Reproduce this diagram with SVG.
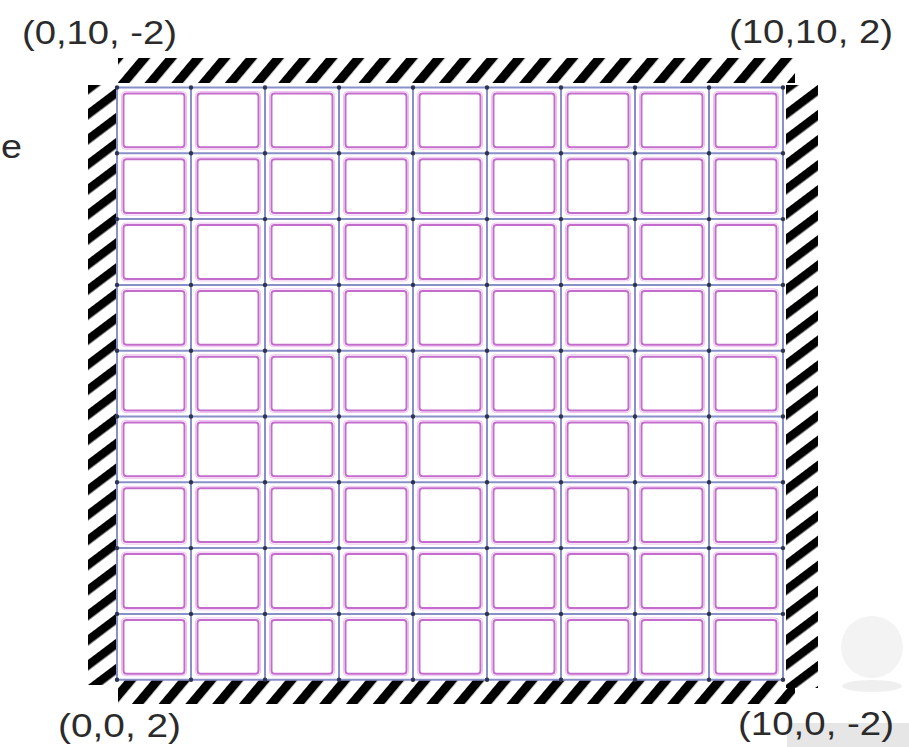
<svg xmlns="http://www.w3.org/2000/svg" xmlns:xlink="http://www.w3.org/1999/xlink" width="909" height="747" viewBox="0 0 909 747">
<style>
.lbl{font-family:"Liberation Sans",Arial,sans-serif;font-size:34px;fill:#2b2b2b}
.gl{stroke:#8890c8;stroke-width:2;fill:none}
.dots{stroke:#2b3550;stroke-width:4.4;stroke-linecap:round;stroke-dasharray:0 74;fill:none}
.cell{fill:#fff;stroke:#c46ccc;stroke-width:2;}
.cellin{fill:none;stroke:#f0c0f0;stroke-width:1;}
</style>
<defs>
<pattern id="hatchH" patternUnits="userSpaceOnUse" width="20.5" height="20" patternTransform="rotate(40)">
<rect x="0" y="0" width="9" height="20" fill="#000"/>
</pattern>
<pattern id="hatchV" patternUnits="userSpaceOnUse" width="20" height="20" patternTransform="rotate(53)">
<rect x="0" y="0" width="8.5" height="20" fill="#000"/>
</pattern>
<g id="c">
<rect class="cell" x="0" y="0" width="61" height="53.8" rx="3"/>
<rect class="cellin" x="-2" y="-2" width="65" height="57.8" rx="4"/>
</g>
</defs>
<rect width="909" height="747" fill="#fff"/>
<g id="watermark">
<circle cx="872" cy="647" r="31" fill="#f3f3f3"/>
<ellipse cx="872" cy="686" rx="30" ry="6" fill="#efefef"/>
<rect x="787" y="723" width="122" height="24" fill="#e6e6e6"/>
</g>
<g id="hatch-borders">
<rect id="band-top" x="118" y="58" width="677" height="25" fill="url(#hatchH)"/>
<rect id="band-bottom" x="118" y="680" width="677" height="24" fill="url(#hatchH)"/>
<rect id="band-left" x="88" y="85" width="30" height="600" fill="url(#hatchV)"/>
<rect id="band-right" x="786" y="85" width="32" height="603" fill="url(#hatchV)"/>
</g>
<g id="grid">
<rect x="117" y="87.5" width="666" height="592.2" fill="#fff"/>
<path class="gl" d="M117 87.5V679.7M191 87.5V679.7M265 87.5V679.7M339 87.5V679.7M413 87.5V679.7M487 87.5V679.7M561 87.5V679.7M635 87.5V679.7M709 87.5V679.7M783 87.5V679.7"/>
<path class="gl" d="M117 87.5H783M117 153.3H783M117 219.1H783M117 284.9H783M117 350.7H783M117 416.5H783M117 482.3H783M117 548.1H783M117 613.9H783M117 679.7H783"/>
</g>
<g id="cells">
<g id="row1"><use xlink:href="#c" x="123.5" y="93.5"/><use xlink:href="#c" x="197.5" y="93.5"/><use xlink:href="#c" x="271.5" y="93.5"/><use xlink:href="#c" x="345.5" y="93.5"/><use xlink:href="#c" x="419.5" y="93.5"/><use xlink:href="#c" x="493.5" y="93.5"/><use xlink:href="#c" x="567.5" y="93.5"/><use xlink:href="#c" x="641.5" y="93.5"/><use xlink:href="#c" x="715.5" y="93.5"/></g>
<g id="row2"><use xlink:href="#c" x="123.5" y="159.3"/><use xlink:href="#c" x="197.5" y="159.3"/><use xlink:href="#c" x="271.5" y="159.3"/><use xlink:href="#c" x="345.5" y="159.3"/><use xlink:href="#c" x="419.5" y="159.3"/><use xlink:href="#c" x="493.5" y="159.3"/><use xlink:href="#c" x="567.5" y="159.3"/><use xlink:href="#c" x="641.5" y="159.3"/><use xlink:href="#c" x="715.5" y="159.3"/></g>
<g id="row3"><use xlink:href="#c" x="123.5" y="225.1"/><use xlink:href="#c" x="197.5" y="225.1"/><use xlink:href="#c" x="271.5" y="225.1"/><use xlink:href="#c" x="345.5" y="225.1"/><use xlink:href="#c" x="419.5" y="225.1"/><use xlink:href="#c" x="493.5" y="225.1"/><use xlink:href="#c" x="567.5" y="225.1"/><use xlink:href="#c" x="641.5" y="225.1"/><use xlink:href="#c" x="715.5" y="225.1"/></g>
<g id="row4"><use xlink:href="#c" x="123.5" y="290.9"/><use xlink:href="#c" x="197.5" y="290.9"/><use xlink:href="#c" x="271.5" y="290.9"/><use xlink:href="#c" x="345.5" y="290.9"/><use xlink:href="#c" x="419.5" y="290.9"/><use xlink:href="#c" x="493.5" y="290.9"/><use xlink:href="#c" x="567.5" y="290.9"/><use xlink:href="#c" x="641.5" y="290.9"/><use xlink:href="#c" x="715.5" y="290.9"/></g>
<g id="row5"><use xlink:href="#c" x="123.5" y="356.7"/><use xlink:href="#c" x="197.5" y="356.7"/><use xlink:href="#c" x="271.5" y="356.7"/><use xlink:href="#c" x="345.5" y="356.7"/><use xlink:href="#c" x="419.5" y="356.7"/><use xlink:href="#c" x="493.5" y="356.7"/><use xlink:href="#c" x="567.5" y="356.7"/><use xlink:href="#c" x="641.5" y="356.7"/><use xlink:href="#c" x="715.5" y="356.7"/></g>
<g id="row6"><use xlink:href="#c" x="123.5" y="422.5"/><use xlink:href="#c" x="197.5" y="422.5"/><use xlink:href="#c" x="271.5" y="422.5"/><use xlink:href="#c" x="345.5" y="422.5"/><use xlink:href="#c" x="419.5" y="422.5"/><use xlink:href="#c" x="493.5" y="422.5"/><use xlink:href="#c" x="567.5" y="422.5"/><use xlink:href="#c" x="641.5" y="422.5"/><use xlink:href="#c" x="715.5" y="422.5"/></g>
<g id="row7"><use xlink:href="#c" x="123.5" y="488.3"/><use xlink:href="#c" x="197.5" y="488.3"/><use xlink:href="#c" x="271.5" y="488.3"/><use xlink:href="#c" x="345.5" y="488.3"/><use xlink:href="#c" x="419.5" y="488.3"/><use xlink:href="#c" x="493.5" y="488.3"/><use xlink:href="#c" x="567.5" y="488.3"/><use xlink:href="#c" x="641.5" y="488.3"/><use xlink:href="#c" x="715.5" y="488.3"/></g>
<g id="row8"><use xlink:href="#c" x="123.5" y="554.1"/><use xlink:href="#c" x="197.5" y="554.1"/><use xlink:href="#c" x="271.5" y="554.1"/><use xlink:href="#c" x="345.5" y="554.1"/><use xlink:href="#c" x="419.5" y="554.1"/><use xlink:href="#c" x="493.5" y="554.1"/><use xlink:href="#c" x="567.5" y="554.1"/><use xlink:href="#c" x="641.5" y="554.1"/><use xlink:href="#c" x="715.5" y="554.1"/></g>
<g id="row9"><use xlink:href="#c" x="123.5" y="619.9"/><use xlink:href="#c" x="197.5" y="619.9"/><use xlink:href="#c" x="271.5" y="619.9"/><use xlink:href="#c" x="345.5" y="619.9"/><use xlink:href="#c" x="419.5" y="619.9"/><use xlink:href="#c" x="493.5" y="619.9"/><use xlink:href="#c" x="567.5" y="619.9"/><use xlink:href="#c" x="641.5" y="619.9"/><use xlink:href="#c" x="715.5" y="619.9"/></g>
</g>
<g id="grid-dots">
<path class="dots" d="M117 87.5H784M117 153.3H784M117 219.1H784M117 284.9H784M117 350.7H784M117 416.5H784M117 482.3H784M117 548.1H784M117 613.9H784M117 679.7H784"/>
</g>
<g id="labels">
<text id="lbl-tl" class="lbl" x="22" y="44" textLength="155" lengthAdjust="spacingAndGlyphs">(0,10, -2)</text>
<text id="lbl-tr" class="lbl" x="729" y="43" textLength="164" lengthAdjust="spacingAndGlyphs">(10,10, 2)</text>
<text id="lbl-bl" class="lbl" x="58" y="737" textLength="123" lengthAdjust="spacingAndGlyphs">(0,0, 2)</text>
<text id="lbl-br" class="lbl" x="738" y="735" textLength="156" lengthAdjust="spacingAndGlyphs">(10,0, -2)</text>
<text id="lbl-e" class="lbl" x="1" y="158" textLength="21" lengthAdjust="spacingAndGlyphs">e</text>
</g>
</svg>
